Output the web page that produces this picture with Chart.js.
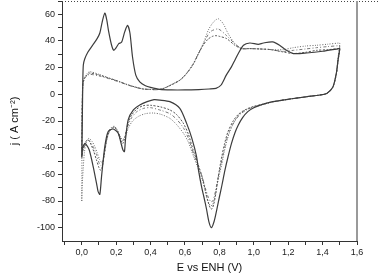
<!DOCTYPE html>
<html>
<head>
<meta charset="utf-8">
<script src="https://cdn.jsdelivr.net/npm/chart.js@4.4.0/dist/chart.umd.min.js"></script>
<style>
  html, body { margin: 0; padding: 0; background: #fff; }
  #wrap { width: 378px; height: 275px; position: relative; }
</style>
</head>
<body>
<div id="wrap"><canvas id="cv"></canvas></div>
<script>
// Cyclic voltammograms: E (V vs ENH) against j, each series is one closed loop
// (anodic sweep 0 -> 1.5 V, then cathodic sweep back to 0)

const solidE = [
    0.000, 0.003, 0.006, 0.009, 0.017, 0.035, 0.064, 0.090, 0.105, 0.120,
    0.134, 0.145, 0.155, 0.173, 0.186, 0.200, 0.215, 0.231, 0.250, 0.266,
    0.280, 0.295, 0.314, 0.337, 0.370, 0.400, 0.454, 0.520, 0.600, 0.680,
    0.740, 0.780, 0.810, 0.840, 0.870, 0.890, 0.910, 0.940, 0.977, 1.026,
    1.055, 1.110, 1.150, 1.190, 1.230, 1.307, 1.400, 1.495,
    1.500, 1.490, 1.480, 1.460, 1.424, 1.385, 1.307, 1.210, 1.110, 1.050,
    1.000, 0.965, 0.935, 0.910, 0.890, 0.870, 0.850, 0.832, 0.815, 0.800,
    0.784, 0.770, 0.754, 0.740, 0.725, 0.710, 0.696, 0.680, 0.667, 0.640,
    0.609, 0.570, 0.512, 0.454, 0.420, 0.380, 0.337, 0.300, 0.270, 0.254,
    0.248, 0.240, 0.231, 0.211, 0.182, 0.153, 0.134, 0.115, 0.105, 0.095,
    0.089, 0.066, 0.043, 0.025, 0.017, 0.008, 0.003, 0.000
];
const solidJ = [
    -47, -20, 10, 22, 26.5, 31.6, 37, 42, 46, 55,
    61, 56, 48, 37, 33, 35, 38, 39, 47, 51.7,
    46, 28, 14.4, 9.4, 6.5, 5.2, 3.7, 3.3, 3.3, 3.6,
    4, 4.5, 7, 14.4, 20.6, 25.6, 30.6, 36.8, 38.5, 37.5,
    38.5, 39.3, 36.8, 33, 30.6, 31, 32.3, 34.3,
    34.3, 26, 16, 5.5, 0.7, -0.5, -1.8, -3.5, -5.5, -7.5,
    -10, -13, -17.5, -23, -29, -37, -47, -57, -68, -77,
    -87, -95, -100, -96, -86, -77, -69, -58, -46.5, -33,
    -21.6, -10.5, -5.5, -4.3, -4, -5.5, -8, -11.7, -19, -34,
    -43, -42, -38, -29, -26, -28, -39, -61.5, -75, -73,
    -69, -54, -41.6, -37.5, -37, -39, -42, -47
];

const dashE = [
    0.000, 0.002, 0.006, 0.015, 0.030, 0.047, 0.100, 0.163, 0.220, 0.260,
    0.310, 0.357, 0.400, 0.434, 0.470, 0.512, 0.570, 0.609, 0.648, 0.677,
    0.706, 0.735, 0.760, 0.780, 0.800, 0.842, 0.890, 0.929, 0.977, 1.040,
    1.094, 1.170, 1.230, 1.300, 1.365, 1.430, 1.495,
    1.500, 1.490, 1.480, 1.460, 1.424, 1.385, 1.307, 1.210, 1.110, 1.050,
    1.000, 0.950, 0.910, 0.880, 0.850, 0.830, 0.815, 0.800, 0.790, 0.780,
    0.768, 0.757, 0.748, 0.735, 0.720, 0.700, 0.675, 0.648, 0.620, 0.590,
    0.550, 0.512, 0.460, 0.400, 0.357, 0.320, 0.290, 0.270, 0.258, 0.248,
    0.238, 0.225, 0.210, 0.192, 0.175, 0.160, 0.145, 0.132, 0.120, 0.110,
    0.100, 0.085, 0.070, 0.055, 0.037, 0.020, 0.010, 0.003, 0.000
];
const dashJ = [
    -46, -10, 8, 12, 14.5, 16, 14.5, 12, 9.5, 7.5,
    5.5, 4, 3.7, 3.5, 4.2, 6.5, 10.5, 15.5, 22.5, 30,
    37, 41.5, 43.5, 44, 43.5, 41.8, 36.8, 34.3, 34.3, 34,
    33.6, 31.8, 30.6, 31.5, 33, 33.5, 34.3,
    34.3, 25, 15, 5.5, 0.7, -0.5, -1.8, -3.5, -5.5, -7.5,
    -9, -11.5, -15, -20, -28, -37, -46, -56.5, -65, -74,
    -82, -86, -85.5, -81, -73, -62, -52, -42, -30, -21.6,
    -15, -11.7, -9.5, -8.2, -8.5, -11, -15.5, -21, -28, -34,
    -37, -34, -28, -25, -25.5, -28, -34, -44, -54, -57,
    -55, -49, -43, -38, -34, -36, -40, -44, -46
];

const dotE = [
    0.000, 0.002, 0.006, 0.015, 0.030, 0.047, 0.100, 0.163, 0.220, 0.260,
    0.310, 0.357, 0.400, 0.434, 0.470, 0.512, 0.570, 0.609, 0.648, 0.677,
    0.706, 0.735, 0.764, 0.793, 0.822, 0.851, 0.890, 0.929, 0.977, 1.040,
    1.094, 1.170, 1.230, 1.300, 1.365, 1.430, 1.495,
    1.500, 1.490, 1.480, 1.460, 1.424, 1.385, 1.307, 1.210, 1.110, 1.050,
    1.000, 0.950, 0.910, 0.880, 0.850, 0.830, 0.815, 0.800, 0.785, 0.772,
    0.760, 0.750, 0.740, 0.728, 0.715, 0.700, 0.675, 0.648, 0.620, 0.590,
    0.550, 0.512, 0.460, 0.415, 0.370, 0.330, 0.295, 0.272, 0.258, 0.247,
    0.236, 0.222, 0.205, 0.190, 0.175, 0.160, 0.147, 0.135, 0.125, 0.115,
    0.104, 0.090, 0.075, 0.058, 0.040, 0.025, 0.015, 0.008, 0.002, 0.000
];
const dotJ = [
    -80, -20, 6, 12, 15.5, 17, 15, 12, 9.5, 7.5,
    5.5, 4, 3.7, 3.5, 4.2, 6.8, 10.8, 15.8, 23, 30.6,
    38, 48, 54, 56.7, 53, 45.5, 38, 34.3, 34.3, 34,
    33.6, 33.5, 35, 36.2, 36.8, 37.6, 38.5,
    38.5, 28, 16, 5.5, 0.7, -0.5, -1.8, -3.5, -5.8, -7.8,
    -9.5, -12, -16, -22, -32, -42, -52, -60, -69, -78,
    -83, -83.5, -82, -78, -71, -64, -55, -46, -36, -29,
    -22.5, -18, -15, -14, -14.5, -16.5, -20, -25, -30, -33,
    -34, -31, -26.5, -24, -24.5, -27, -33, -42, -49, -51,
    -49, -44, -39, -35, -33, -36, -44, -56, -70, -80
];

const dashDotE = [
    0.000, 0.002, 0.006, 0.015, 0.030, 0.047, 0.100, 0.163, 0.220, 0.260,
    0.310, 0.357, 0.400, 0.434, 0.470, 0.512, 0.570, 0.609, 0.648, 0.677,
    0.706, 0.745, 0.793, 0.842, 0.890, 0.929, 0.977, 1.040, 1.094, 1.170,
    1.230, 1.300, 1.365, 1.430, 1.495,
    1.500, 1.490, 1.480, 1.460, 1.424, 1.385, 1.307, 1.210, 1.110, 1.050,
    1.000, 0.960, 0.920, 0.890, 0.860, 0.840, 0.820, 0.805, 0.790, 0.775,
    0.762, 0.750, 0.735, 0.720, 0.700, 0.675, 0.648, 0.620, 0.590, 0.550,
    0.512, 0.460, 0.400, 0.360, 0.320, 0.290, 0.270, 0.256, 0.246, 0.236,
    0.222, 0.206, 0.190, 0.175, 0.160, 0.146, 0.133, 0.122, 0.112, 0.102,
    0.088, 0.072, 0.056, 0.040, 0.022, 0.010, 0.003, 0.000
];
const dashDotJ = [
    -48, -12, 7, 11.5, 14, 15, 13.8, 11.5, 9.2, 7.3,
    5.3, 4, 3.6, 3.5, 4.2, 6.6, 10.6, 15.6, 22.8, 30.3,
    37.5, 46.7, 49, 44, 38, 34.3, 34.3, 34, 33.6, 32.2,
    33, 34, 35, 35.8, 36.5,
    36.5, 26, 15.5, 5.5, 0.7, -0.5, -1.8, -3.5, -5.6, -7.6,
    -9.5, -11.5, -15, -20, -27, -35, -46, -55, -64, -74,
    -80, -80.5, -77, -71, -62, -53, -44, -33, -25, -18.5,
    -14.5, -12, -10, -10.5, -13, -17.5, -23, -29, -33.5, -35,
    -32, -27, -24.5, -25, -27.5, -33, -43, -51, -53.5, -52,
    -46, -41, -37, -34.5, -37, -41, -45, -48
];

const xTicks = [-0.1, 0, 0.1, 0.2, 0.3, 0.4, 0.5, 0.6, 0.7, 0.8, 0.9, 1.0, 1.1, 1.2, 1.3, 1.4, 1.5, 1.6];
const yTicks = [-100, -90, -80, -70, -60, -50, -40, -30, -20, -10, 0, 10, 20, 30, 40, 50, 60, 70];

const FONT = 'Liberation Sans, Arial, Helvetica, sans-serif';

const toPoints = (xs, ys) => xs.map((x, i) => ({ x, y: ys[i] }));

// dotted top edge and grey right edge of the frame
const framePlugin = {
    id: 'frame',
    afterDatasetsDraw(chart) {
        const { ctx, chartArea: a } = chart;
        ctx.save();
        ctx.strokeStyle = '#444';
        ctx.lineWidth = 1;
        ctx.setLineDash([1, 2]);
        ctx.beginPath();
        ctx.moveTo(a.left, a.top + 0.5);
        ctx.lineTo(chart.width, a.top + 0.5);
        ctx.stroke();
        ctx.setLineDash([]);
        ctx.strokeStyle = '#9a9a9a';
        ctx.lineWidth = 2;
        ctx.beginPath();
        ctx.moveTo(a.right, a.top);
        ctx.lineTo(a.right, a.bottom);
        ctx.stroke();
        ctx.restore();
    }
};

function series(xs, ys, color, dash, width) {
    return {
        data: toPoints(xs, ys),
        showLine: true,
        borderColor: color,
        borderWidth: width,
        borderDash: dash,
        pointRadius: 0,
        tension: 0.25,
        fill: false
    };
}

new Chart(document.getElementById('cv'), {
    type: 'scatter',
    data: {
        datasets: [
            series(solidE, solidJ, '#3c3c3c', [], 1.2),
            series(dashE, dashJ, '#555', [2, 1.5], 1),
            series(dashDotE, dashDotJ, '#777', [3, 2, 1, 2], 1),
            series(dotE, dotJ, '#6a6a6a', [1, 1.5], 1)
        ]
    },
    options: {
        responsive: true,
        maintainAspectRatio: false,
        animation: false,
        layout: { padding: { top: 1, right: 21, left: 0, bottom: 0 } },
        plugins: {
            legend: { display: false },
            tooltip: { enabled: false }
        },
        scales: {
            x: {
                type: 'linear',
                min: -0.115,
                max: 1.6,
                afterBuildTicks: s => { s.ticks = xTicks.map(v => ({ value: v })); },
                afterFit: s => { s.height = 34; },
                grid: { drawOnChartArea: false, drawTicks: true, tickLength: 4, color: '#333' },
                border: { color: '#333', width: 1 },
                ticks: {
                    autoSkip: false,
                    maxRotation: 0,
                    padding: 2,
                    color: '#222',
                    font: { family: FONT, size: 9 },
                    callback: v => (v >= 0 && Math.round(v * 10) % 2 === 0) ? v.toFixed(1).replace('.', ',') : ''
                },
                title: {
                    display: true,
                    text: 'E vs ENH (V)',
                    color: '#111',
                    font: { family: FONT, size: 11 },
                    padding: { top: 0, bottom: 0 }
                }
            },
            y: {
                type: 'linear',
                min: -110,
                max: 70,
                afterBuildTicks: s => { s.ticks = yTicks.map(v => ({ value: v })); },
                afterFit: s => {
                    s.width = 62;
                    s.paddingTop = 0;
                    s.paddingBottom = 0;
                },
                grid: { drawOnChartArea: false, drawTicks: true, tickLength: 4, color: '#333' },
                border: { color: '#333', width: 1 },
                ticks: {
                    autoSkip: false,
                    padding: 3,
                    color: '#222',
                    font: { family: FONT, size: 9 },
                    callback: v => (v % 20 === 0 && v <= 60) ? String(v) : ''
                },
                title: {
                    display: true,
                    text: 'j ( A cm\u207B\u00B2)',
                    color: '#111',
                    font: { family: FONT, size: 11 },
                    padding: { top: 8, bottom: 0 }
                }
            }
        }
    },
    plugins: [framePlugin]
});
</script>
</body>
</html>
